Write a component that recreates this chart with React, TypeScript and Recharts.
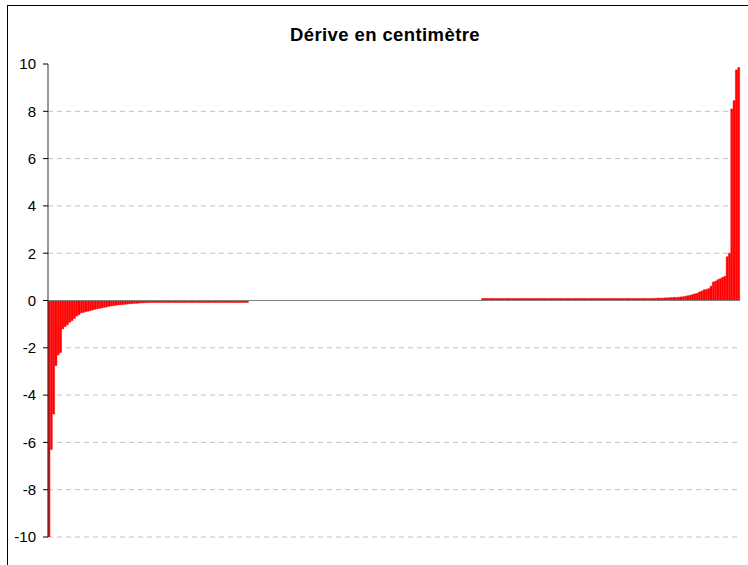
import { BarChart, Bar, XAxis, YAxis, CartesianGrid, ReferenceLine } from "recharts";

// valeurs triées (cm)
const negativeDrift = [
  -10.1, -6.3, -4.8, -2.75, -2.3, -2.2, -1.2, -1.1, -1.02, -0.92,
  -0.85, -0.76, -0.66, -0.6, -0.52, -0.5, -0.47, -0.45, -0.42, -0.4,
  -0.37, -0.35, -0.33, -0.31, -0.29, -0.27, -0.25, -0.23, -0.22, -0.2,
  -0.19, -0.18, -0.17, -0.16, -0.15, -0.14, -0.13, -0.12, -0.12, -0.11,
  -0.1, -0.1, -0.09, -0.09, -0.08, -0.08, -0.07, -0.07, -0.07, -0.06,
  -0.06, -0.06, -0.05, -0.05, -0.05, -0.05, -0.04, -0.04, -0.04, -0.04,
  -0.04, -0.04, -0.04, -0.04, -0.04, -0.04, -0.03, -0.03, -0.03, -0.03,
  -0.03, -0.03, -0.03, -0.03, -0.03, -0.03, -0.02, -0.02, -0.02, -0.02,
  -0.02, -0.02, -0.01, -0.01, -0.01, -0.01, -0.01,
];

const flatDrift = [
  0, 0, 0, 0, 0, 0, 0, 0, 0, 0,
  0, 0, 0, 0, 0, 0, 0, 0, 0, 0,
  0, 0, 0, 0, 0, 0, 0, 0, 0, 0,
  0, 0, 0, 0, 0, 0, 0, 0, 0, 0,
  0, 0, 0, 0, 0, 0, 0, 0, 0, 0,
  0, 0, 0, 0, 0, 0, 0, 0, 0, 0,
  0, 0, 0, 0, 0, 0, 0, 0, 0, 0,
  0, 0, 0, 0, 0, 0, 0, 0, 0, 0,
  0, 0, 0, 0, 0, 0, 0, 0, 0, 0,
  0, 0, 0, 0, 0, 0, 0, 0, 0, 0,
  0,
];

const positiveDrift = [
  0.01, 0.01, 0.01, 0.01, 0.01, 0.01, 0.02, 0.02, 0.02, 0.02, 0.02, 0.02,
  0.02, 0.02, 0.02, 0.02, 0.02, 0.02, 0.02, 0.02, 0.03, 0.03,
  0.03, 0.03, 0.03, 0.03, 0.03, 0.03, 0.03, 0.03, 0.03, 0.03,
  0.03, 0.03, 0.03, 0.03, 0.03, 0.03, 0.04, 0.04, 0.04, 0.04,
  0.04, 0.04, 0.04, 0.04, 0.04, 0.04, 0.05, 0.05, 0.05, 0.05,
  0.05, 0.05, 0.05, 0.05, 0.05, 0.05, 0.06, 0.06, 0.06, 0.06,
  0.06, 0.06, 0.06, 0.06, 0.07, 0.07, 0.07, 0.07, 0.07, 0.07,
  0.08, 0.08, 0.09, 0.09, 0.1, 0.1, 0.1, 0.11, 0.11, 0.12,
  0.12, 0.13, 0.13, 0.14, 0.15, 0.16, 0.18, 0.2, 0.22, 0.25,
  0.28, 0.3, 0.36, 0.4, 0.45, 0.47, 0.5, 0.6, 0.78, 0.82,
  0.88, 0.92, 0.98, 1.02, 1.85, 2.0, 8.1, 8.45, 9.75, 9.85,
];

const yTicks = [-10, -8, -6, -4, -2, 0, 2, 4, 6, 8, 10];
const gridValues = [-10, -8, -6, -4, -2, 2, 4, 6, 8];

const data = [...negativeDrift, ...flatDrift, ...positiveDrift].map((v, i) => ({
  n: i + 1,
  derive: v,
}));

export default function App() {
  return (
    <div
      style={{
        position: "fixed", left: 0, top: 0, width: 748, height: 565,
        overflow: "hidden", background: "#fff",
        fontFamily: "'Liberation Sans', Arial, sans-serif",
      }}
    >
      <div
        style={{
          position: "absolute", left: 7, top: 5, width: 800, height: 620,
          border: "1px solid #000",
        }}
      />
      <div
        style={{
          position: "absolute", left: 0, top: 25, width: 770, textAlign: "center",
          fontSize: 18.5, fontWeight: "bold", lineHeight: "19px", color: "#000",
          letterSpacing: 0.4,
        }}
      >
        Dérive en centimètre
      </div>
      <div style={{ position: "absolute", left: 0, top: 0 }}>
        <BarChart
          width={748}
          height={565}
          data={data}
          margin={{ top: 64, right: 8, bottom: 28, left: 8 }}
          barCategoryGap={0}
        >
          <CartesianGrid
            vertical={false}
            horizontalValues={gridValues}
            stroke="#c0c0c0"
            strokeDasharray="5 4"
          />
          <XAxis dataKey="n" hide />
          <YAxis
            width={40}
            domain={[-10, 10]}
            ticks={yTicks}
            interval={0}
            allowDataOverflow
            tickSize={5}
            tickMargin={7}
            axisLine={{ stroke: "#333" }}
            tickLine={{ stroke: "#000" }}
            tick={{ fill: "#000", fontSize: 15, fontFamily: "'Liberation Sans', Arial" }}
          />
          <Bar
            dataKey="derive"
            fill="#ff0000"
            stroke="#ff0000"
            strokeWidth={0.5}
            minPointSize={(v: number) => (v === 0 ? 0 : 2)}
            isAnimationActive={false}
          />
          <ReferenceLine y={0} stroke="#808080" />
        </BarChart>
      </div>
    </div>
  );
}
